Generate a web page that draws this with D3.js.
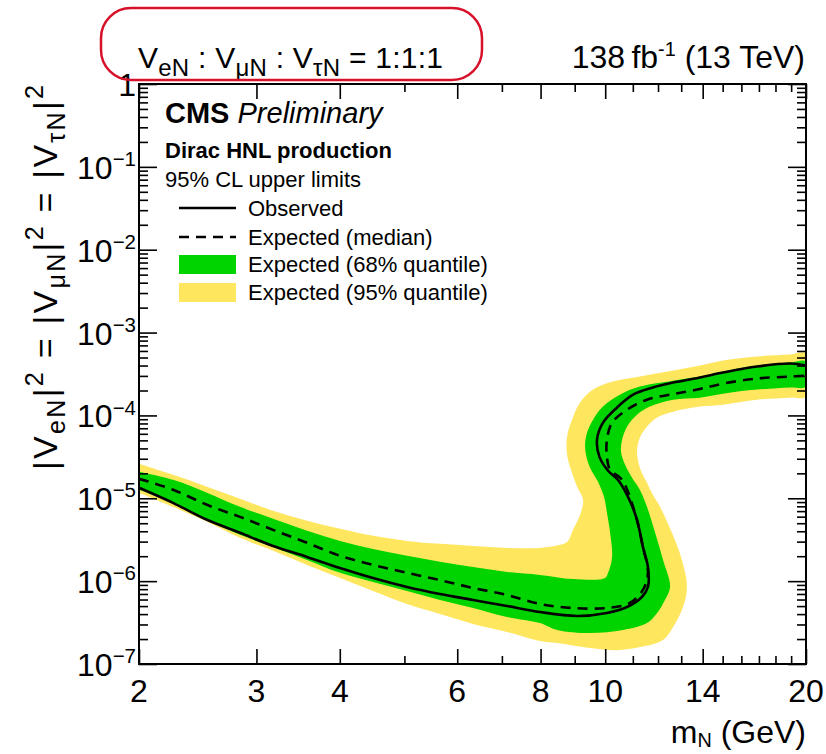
<!DOCTYPE html>
<html lang="en">
<head>
<meta charset="UTF-8">
<script src="https://cdn.jsdelivr.net/npm/d3@7"></script>
<title>HNL limits</title>
<style>
  html, body { margin: 0; padding: 0; background: #fff; }
  svg { display: block; font-family: "Liberation Sans", Arial, Helvetica, sans-serif; }
</style>
</head>
<body>
<div id="chart"></div>
<script>
// [mass (GeV), |V|^2]
const observed = [
  [2.000, 1.34e-5], [2.249, 8.82e-6], [2.529, 5.50e-6], [2.834, 3.83e-6], [3.177, 2.66e-6],
  [3.572, 1.96e-6], [4.004, 1.44e-6], [4.486, 1.09e-6], [5.046, 8.51e-7], [5.653, 7.00e-7],
  [6.337, 5.93e-7], [7.125, 5.01e-7], [7.984, 4.24e-7], [9.075, 3.80e-7], [10.06, 4.13e-7],
  [10.78, 4.88e-7], [11.35, 6.44e-7], [11.59, 8.51e-7], [11.59, 1.48e-6], [11.39, 2.59e-6],
  [11.16, 5.50e-6], [10.82, 1.04e-5], [10.45, 1.67e-5], [10.10, 2.15e-5], [9.80, 3.18e-5],
  [9.721, 5.10e-5], [9.924, 8.18e-5], [10.41, 1.24e-4], [11.01, 1.78e-4], [11.79, 2.17e-4],
  [12.64, 2.49e-4], [13.87, 2.87e-4], [15.02, 3.29e-4], [16.89, 3.89e-4], [18.93, 4.23e-4],
  [20.00, 4.00e-4]
];
const expected = [
  [2.000, 1.72e-5], [2.249, 1.27e-5], [2.529, 8.34e-6], [2.834, 5.97e-6], [3.177, 4.16e-6],
  [3.572, 2.90e-6], [4.004, 2.02e-6], [4.486, 1.57e-6], [5.046, 1.26e-6], [5.653, 1.03e-6],
  [6.337, 8.28e-7], [7.125, 6.81e-7], [7.984, 5.30e-7], [8.949, 4.74e-7], [10.06, 4.74e-7],
  [10.89, 5.45e-7], [11.39, 7.83e-7], [11.59, 1.26e-6], [11.39, 2.59e-6], [11.08, 6.68e-6],
  [10.60, 1.67e-5], [10.17, 2.21e-5], [10.06, 3.18e-5], [10.06, 5.10e-5], [10.24, 8.18e-5],
  [10.78, 1.17e-4], [11.55, 1.55e-4], [12.51, 1.78e-4], [13.73, 2.05e-4], [15.02, 2.42e-4],
  [16.89, 2.79e-4], [18.93, 2.94e-4], [20.00, 3.03e-4]
];
// band edges: "outer" = upper on the left part / left side of the S, "inner" = the other side
const band68Outer = [
  [2.000, 2.09e-5], [2.249, 1.67e-5], [2.529, 1.17e-5], [2.834, 7.89e-6], [3.177, 5.65e-6],
  [3.572, 4.05e-6], [4.004, 3.06e-6], [4.486, 2.45e-6], [5.046, 2.02e-6], [5.653, 1.71e-6],
  [6.337, 1.48e-6], [7.125, 1.29e-6], [7.984, 1.19e-6], [8.949, 1.06e-6], [9.993, 1.09e-6],
  [10.10, 1.26e-6], [10.24, 1.96e-6], [10.17, 3.83e-6], [10.06, 6.68e-6], [9.958, 1.04e-5],
  [9.754, 1.58e-5], [9.490, 2.34e-5], [9.359, 3.36e-5], [9.328, 4.43e-5], [9.392, 6.19e-5],
  [9.589, 8.89e-5], [9.924, 1.28e-4], [10.52, 1.78e-4], [11.27, 2.23e-4], [12.64, 2.63e-4],
  [13.87, 2.94e-4], [15.02, 3.39e-4], [16.89, 4.00e-4], [18.93, 4.35e-4], [20.00, 4.47e-4]
];
const band68Inner = [
  [2.000, 1.27e-5], [2.249, 8.82e-6], [2.529, 5.50e-6], [2.834, 3.62e-6], [3.177, 2.59e-6],
  [3.572, 1.80e-6], [4.004, 1.26e-6], [4.486, 9.78e-7], [5.046, 7.61e-7], [5.653, 5.93e-7],
  [6.337, 4.74e-7], [7.125, 3.69e-7], [7.984, 3.12e-7], [8.467, 2.57e-7], [9.490, 2.36e-7],
  [10.63, 2.57e-7], [11.55, 3.12e-7], [11.96, 4.13e-7], [12.29, 5.93e-7], [12.51, 8.51e-7],
  [12.21, 1.80e-6], [11.88, 3.83e-6], [11.55, 7.89e-6], [11.27, 1.27e-5], [10.97, 1.77e-5],
  [10.71, 2.54e-5], [10.56, 3.65e-5], [10.60, 5.10e-5], [10.78, 7.32e-5], [11.16, 1.02e-4],
  [11.67, 1.28e-4], [12.64, 1.55e-4], [13.87, 1.64e-4], [15.02, 1.83e-4], [16.89, 2.05e-4],
  [18.93, 2.17e-4], [20.00, 2.23e-4]
];
const band95Outer = [
  [2.000, 2.61e-5], [2.249, 1.92e-5], [2.529, 1.38e-5], [2.834, 9.86e-6], [3.177, 7.06e-6],
  [3.572, 5.34e-6], [4.004, 4.28e-6], [4.486, 3.52e-6], [5.046, 3.06e-6], [5.653, 2.82e-6],
  [6.337, 2.66e-6], [7.125, 2.52e-6], [7.984, 2.52e-6], [8.556, 2.74e-6], [8.795, 3.06e-6],
  [8.949, 4.16e-6], [9.169, 6.32e-6], [9.264, 9.59e-6], [9.075, 1.38e-5], [8.918, 2.03e-5],
  [8.765, 3.36e-5], [8.765, 5.54e-5], [8.918, 8.89e-5], [9.169, 1.43e-4], [9.589, 2.05e-4],
  [10.27, 2.56e-4], [11.27, 2.94e-4], [12.64, 3.48e-4], [13.87, 4.00e-4], [15.02, 4.60e-4],
  [16.89, 5.14e-4], [18.93, 5.43e-4], [20.00, 5.59e-4]
];
const band95Inner = [
  [2.000, 1.17e-5], [2.249, 7.89e-6], [2.529, 5.20e-6], [2.834, 3.33e-6], [3.177, 2.32e-6],
  [3.572, 1.57e-6], [4.004, 1.09e-6], [4.486, 7.61e-7], [5.046, 5.30e-7], [5.653, 4.01e-7],
  [6.337, 3.04e-7], [7.125, 2.43e-7], [7.984, 1.89e-7], [8.467, 1.79e-7], [9.490, 1.56e-7],
  [10.41, 1.47e-7], [11.27, 1.60e-7], [12.21, 1.95e-7], [12.64, 2.79e-7], [13.08, 4.88e-7],
  [13.26, 8.51e-7], [13.03, 1.80e-6], [12.59, 3.83e-6], [12.08, 7.89e-6], [11.79, 1.10e-5],
  [11.55, 1.54e-5], [11.27, 2.34e-5], [11.16, 3.65e-5], [11.27, 5.39e-5], [11.55, 7.32e-5],
  [11.96, 9.41e-5], [12.64, 1.11e-4], [13.87, 1.28e-4], [15.02, 1.35e-4], [16.89, 1.55e-4],
  [18.93, 1.64e-4], [20.00, 1.69e-4]
];
const xLabelTicks = [2, 3, 4, 6, 8, 10, 14, 20];
const xMinorTicks = [5, 7, 9, 11, 12, 13, 15, 16, 17, 18, 19];
const yExponents = [0, -1, -2, -3, -4, -5, -6, -7];

const width = 826, height = 754;
const pLeft = 139, pRight = 806, pTop = 84, pBottom = 664;

const svg = d3.select('#chart').append('svg').attr('width', width).attr('height', height);

const x = d3.scaleLog().domain([2, 20]).range([pLeft, pRight]);
const y = d3.scaleLog().domain([1e-7, 1]).range([pBottom, pTop]);

const green = '#00d400', yellow = '#fee65e';

// text with sub/superscripts, parts = [[string, 'n'|'sub'|'sup'], ...]
function rich(t, parts, fs, small = 0.7, subShift = 0.28, supShift = 0.42) {
  let shift = 0;
  parts.forEach(([s, k]) => {
    const target = k === 'sub' ? subShift * fs : k === 'sup' ? -supShift * fs : 0;
    t.append('tspan')
      .attr('dy', target - shift)
      .attr('font-size', k === 'n' ? fs : fs * small)
      .text(s);
    shift = target;
  });
  return t;
}

svg.append('clipPath').attr('id', 'plotclip')
  .append('rect').attr('x', pLeft).attr('y', pTop).attr('width', pRight - pLeft).attr('height', pBottom - pTop);

const plot = svg.append('g').attr('clip-path', 'url(#plotclip)');

const line = d3.line().x(d => x(d[0])).y(d => y(d[1])).curve(d3.curveCatmullRom.alpha(0.5));

function band(outer, inner) {
  return line(outer.concat(inner.slice().reverse())) + 'Z';
}

plot.append('path').attr('d', band(band95Outer, band95Inner)).attr('fill', yellow);
plot.append('path').attr('d', band(band68Outer, band68Inner)).attr('fill', green);
plot.append('path').attr('d', line(expected)).attr('fill', 'none')
  .attr('stroke', '#000').attr('stroke-width', 2.6).attr('stroke-dasharray', '10,7');
plot.append('path').attr('d', line(observed)).attr('fill', 'none')
  .attr('stroke', '#000').attr('stroke-width', 2.6);

// ticks on all four sides, pointing inwards
const yMinor = [];
for (let e = -7; e < 0; e++) for (let k = 2; k <= 9; k++) yMinor.push(k * Math.pow(10, e));
const yMajor = yExponents.map(e => Math.pow(10, e));

function ticks(axis, tx, ty) {
  svg.append('g').attr('transform', `translate(${tx},${ty})`)
    .call(axis.tickFormat(''))
    .call(s => s.select('.domain').remove())
    .call(s => s.selectAll('line').attr('stroke-width', 1.6));
}
ticks(d3.axisBottom(x).tickValues(xLabelTicks).tickSize(-15), 0, pBottom);
ticks(d3.axisBottom(x).tickValues(xMinorTicks).tickSize(-8), 0, pBottom);
ticks(d3.axisTop(x).tickValues(xLabelTicks).tickSize(-15), 0, pTop);
ticks(d3.axisTop(x).tickValues(xMinorTicks).tickSize(-8), 0, pTop);
ticks(d3.axisLeft(y).tickValues(yMajor).tickSize(-18), pLeft, 0);
ticks(d3.axisLeft(y).tickValues(yMinor).tickSize(-9), pLeft, 0);
ticks(d3.axisRight(y).tickValues(yMajor).tickSize(-18), pRight, 0);
ticks(d3.axisRight(y).tickValues(yMinor).tickSize(-9), pRight, 0);

svg.append('rect').attr('x', pLeft).attr('y', pTop).attr('width', pRight - pLeft).attr('height', pBottom - pTop)
  .attr('fill', 'none').attr('stroke', '#000').attr('stroke-width', 2);

// tick labels
svg.append('g').selectAll('text').data(xLabelTicks).join('text')
  .attr('x', d => x(d)).attr('y', 702).attr('text-anchor', 'middle')
  .attr('font-size', 32).text(d => d);

const yl = svg.append('g').selectAll('text').data(yExponents).join('text')
  .attr('x', 136).attr('y', d => y(Math.pow(10, d)) + 12).attr('text-anchor', 'end');
yl.each(function (d) {
  const t = d3.select(this);
  if (d === 0) t.attr('font-size', 32).text('1');
  else rich(t, [['10', 'n'], ['\u2212' + (-d), 'sup']], 32, 0.64, 0.28, 0.4);
});

// axis titles
rich(svg.append('text').attr('x', 806).attr('y', 743).attr('text-anchor', 'end'),
  [['m', 'n'], ['N', 'sub'], [' (GeV)', 'n']], 32, 0.62, 0.12, 0.4);

rich(svg.append('text').attr('transform', 'translate(57,85) rotate(-90)').attr('text-anchor', 'end')
    .attr('textLength', 385).attr('lengthAdjust', 'spacing'),
  [['|V', 'n'], ['eN', 'sub'], ['|', 'n'], ['2', 'sup'], [' = |V', 'n'], ['\u03bcN', 'sub'], ['|', 'n'],
   ['2', 'sup'], [' = |V', 'n'], ['\u03c4N', 'sub'], ['|', 'n'], ['2', 'sup']], 34, 0.74, 0.24, 0.42);

// header
rich(svg.append('text').attr('x', 138).attr('y', 68).attr('textLength', 305).attr('lengthAdjust', 'spacing'),
  [['V', 'n'], ['eN', 'sub'], [' : V', 'n'], ['\u03bcN', 'sub'], [' : V', 'n'], ['\u03c4N', 'sub'], [' = 1:1:1', 'n']],
  30, 0.8, 0.25, 0.4);
svg.append('rect').attr('x', 101).attr('y', 8).attr('width', 381).attr('height', 72).attr('rx', 30)
  .attr('fill', 'none').attr('stroke', '#d8112b').attr('stroke-width', 2.5);

rich(svg.append('text').attr('x', 805).attr('y', 68).attr('text-anchor', 'end'),
  [['138\u2009fb', 'n'], ['-1', 'sup'], [' (13 TeV)', 'n']], 32, 0.62, 0.28, 0.38);

// legend
const cms = svg.append('text').attr('x', 165).attr('y', 123).attr('font-size', 29);
cms.append('tspan').attr('font-weight', 'bold').text('CMS');
cms.append('tspan').attr('font-style', 'italic').text(' Preliminary');
svg.append('text').attr('x', 165).attr('y', 158).attr('font-size', 22).attr('font-weight', 'bold')
  .text('Dirac HNL production');
svg.append('text').attr('x', 165).attr('y', 187).attr('font-size', 22).text('95% CL upper limits');

const legend = [
  {label: 'Observed', kind: 'solid', y: 208},
  {label: 'Expected (median)', kind: 'dash', y: 237},
  {label: 'Expected (68% quantile)', kind: green, y: 264},
  {label: 'Expected (95% quantile)', kind: yellow, y: 292}
];
legend.forEach(l => {
  if (l.kind === 'solid' || l.kind === 'dash') {
    svg.append('line').attr('x1', 179).attr('x2', 236).attr('y1', l.y).attr('y2', l.y)
      .attr('stroke', '#000').attr('stroke-width', 2.6)
      .attr('stroke-dasharray', l.kind === 'dash' ? '10,7' : null);
  } else {
    svg.append('rect').attr('x', 179).attr('y', l.y - 9).attr('width', 57).attr('height', 19)
      .attr('fill', l.kind);
  }
  svg.append('text').attr('x', 248).attr('y', l.y + 8).attr('font-size', 22).text(l.label);
});
</script>
</body>
</html>
